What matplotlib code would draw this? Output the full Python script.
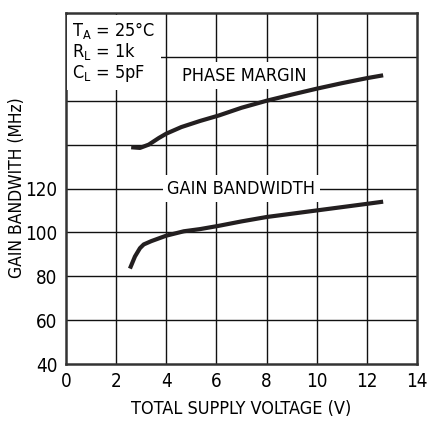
import matplotlib
matplotlib.use("Agg")
import matplotlib.pyplot as plt

plt.rcParams["font.family"] = ["DejaVu Sans"]
plt.rcParams["font.stretch"] = "condensed"
plt.rcParams["mathtext.fontset"] = "custom"
plt.rcParams["mathtext.rm"] = "DejaVu Sans:stretch=condensed"

# gain bandwidth curve (MHz)
gbw_v = [2.55, 2.75, 2.95, 3.1, 3.4, 4.0, 4.7, 5.35, 6.1, 7.0, 8.0, 9.0, 10.0, 11.0, 12.0, 12.65]
gbw_mhz = [83.5, 89.0, 92.8, 94.5, 96.0, 98.5, 100.5, 101.5, 103.0, 105.0, 107.0, 108.5, 110.0, 111.5, 113.0, 114.0]

# phase margin curve (drawn against the same grid, no own scale labels)
pm_v = [2.6, 2.95, 3.3, 3.7, 4.0, 4.6, 5.35, 6.1, 7.0, 8.0, 9.0, 10.0, 11.0, 12.0, 12.65]
pm_pos = [138.8, 138.5, 140.0, 143.0, 145.0, 148.0, 150.8, 153.3, 156.8, 160.0, 162.8, 165.5, 168.0, 170.3, 171.6]

x_ticks = [0, 2, 4, 6, 8, 10, 12, 14]
y_ticks = [40, 60, 80, 100, 120]
y_grid = [40, 60, 80, 100, 120, 140, 160, 180, 200]

fig = plt.figure(figsize=(4.28, 4.21), dpi=100)
ax = fig.add_axes([66 / 428, 1 - 364 / 421, 351 / 428, 351 / 421])

ax.set_xlim(0, 14)
ax.set_ylim(40, 200)
for xv in x_ticks[1:-1]:
    ax.axvline(xv, color="#111111", lw=1.0, zorder=1)
for yv in y_grid[1:-1]:
    ax.axhline(yv, color="#111111", lw=1.0, zorder=1)

ax.plot(gbw_v, gbw_mhz, color="#231f20", lw=3.0, solid_capstyle="butt", zorder=4)
ax.plot(pm_v, pm_pos, color="#231f20", lw=3.0, solid_capstyle="butt", zorder=4)

ax.set_xticks(x_ticks)
ax.set_yticks(y_ticks)
ax.tick_params(length=0, labelsize=13.5, pad=6)
ax.set_xlabel("TOTAL SUPPLY VOLTAGE (V)", fontsize=13, labelpad=6)
fig.text(17 / 428, 1 - 188 / 421, "GAIN BANDWITH (MHz)", fontsize=12.5,
         rotation=90, ha="center", va="center")
for s in ax.spines.values():
    s.set_linewidth(1.8)
    s.set_color("#333333")

box = dict(facecolor="white", edgecolor="none", pad=3)
ax.text(0.25, 197, "$\\mathregular{T_A}$ = 25°C\n$\\mathregular{R_L}$ = 1k\n$\\mathregular{C_L}$ = 5pF",
        fontsize=13, va="top", ha="left", linespacing=1.05,
        bbox=dict(facecolor="white", edgecolor="none", pad=4), zorder=3)
ax.text(7.1, 171.5, "PHASE MARGIN", fontsize=13, ha="center", va="center", bbox=box, zorder=3)
ax.text(7.0, 120, "GAIN BANDWIDTH", fontsize=13, ha="center", va="center", bbox=box, zorder=3)

fig.savefig("out.png", dpi=100, facecolor="white")
